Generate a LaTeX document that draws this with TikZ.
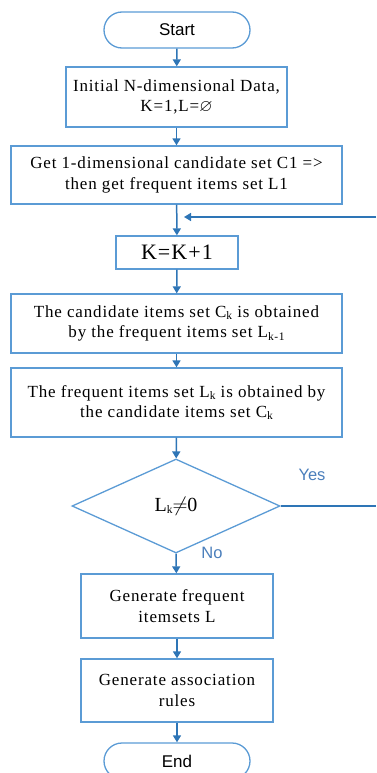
\documentclass[tikz,border=0pt]{standalone}
\usepackage{amssymb}
\usepackage{fontspec}
\setmainfont{Liberation Serif}[LetterSpace=5]
\setsansfont{Liberation Sans}
\usetikzlibrary{arrows.meta,shapes.geometric}
\definecolor{boxblue}{RGB}{91,155,213}
\definecolor{flowblue}{RGB}{46,117,182}
\definecolor{labelblue}{RGB}{74,126,187}
\newcommand{\lowidx}[1]{\raisebox{-0.3ex}{\fontsize{11.5}{11.5}\selectfont #1}}
\tikzset{
  x=1pt, y=1pt,
  procbox/.style={draw=boxblue, line width=1.3pt, fill=white, inner sep=0pt,
    align=center, font=\fontsize{17}{20.5}\selectfont},
  terminal/.style={draw=boxblue, line width=1.3pt, rounded corners=18pt,
    minimum width=146pt, minimum height=36pt, inner sep=0pt,
    font=\sffamily\fontsize{17}{20}\selectfont},
  decision/.style={draw=boxblue, line width=1.3pt, diamond, aspect=2.21,
    minimum width=208pt, minimum height=94pt, inner sep=0pt,
    font=\fontsize{20}{22}\selectfont},
  flow/.style={draw=flowblue, line width=1.5pt,
    -{Triangle[width=8pt,length=7pt]}},
  plainflow/.style={draw=flowblue, line width=1.5pt},
  branch/.style={text=labelblue, font=\sffamily\fontsize{16.5}{18}\selectfont}
}
\begin{document}
\begin{tikzpicture}
\useasboundingbox (0,0) rectangle (376,-773);
\begin{scope}
\clip (0,0) rectangle (376,-773);

\node[terminal] (start) at (177,-30) {Start};
\node[procbox, minimum width=221pt, minimum height=60pt] (init) at (176.5,-97)
  {Initial N-dimensional Data,\\ K=1,L=$\varnothing$};
\node[procbox, minimum width=331pt, minimum height=58pt] (c1) at (176.5,-175)
  {Get 1-dimensional candidate set C1 =>\\ then get frequent items set L1};
\node[procbox, minimum width=122pt, minimum height=33pt,
  font=\fontsize{22}{24}\selectfont] (inc) at (177,-252.5) {K=K+1};
\node[procbox, minimum width=331pt, minimum height=59pt] (cand) at (176.5,-323.5)
  {The candidate items set C\lowidx{k} is obtained\\ by the frequent items set L\lowidx{k-1}};
\node[procbox, minimum width=331pt, minimum height=69pt] (freq) at (176.5,-402.5)
  {The frequent items set L\lowidx{k} is obtained by\\ the candidate items set C\lowidx{k}};
\node[decision] (test) at (176,-506) {L\lowidx{k}$\neq$0};
\node[procbox, minimum width=192pt, minimum height=64pt] (genf) at (177,-606)
  {Generate frequent\\ itemsets L};
\node[procbox, minimum width=192pt, minimum height=63pt] (gena) at (177,-690.5)
  {Generate association\\ rules};
\node[terminal] (end) at (177,-761) {End};

% loop back from the decision to the counter step
\coordinate (edgeYes) at (376,-506);
\coordinate (edgeBack) at (376,-217);
\coordinate (joinIn) at (184,-217);

\draw[flow] (start) -- (init);
\draw[flow] (init) -- (c1);
\draw[flow] (c1) -- (inc);
\draw[flow] (edgeBack) -- (joinIn);
\draw[flow] (inc) -- (cand);
\draw[flow] (cand) -- (freq);
\draw[flow] (freq) -- (test);
\draw[plainflow] (test.east) -- (edgeYes);
\draw[flow] (test.south) -- (genf);
\draw[flow] (genf) -- (gena);
\draw[flow] (gena) -- (end);

\node[branch] (yes) at (312,-475) {Yes};
\node[branch] (no) at (212,-553) {No};
\end{scope}
\end{tikzpicture}
\end{document}
